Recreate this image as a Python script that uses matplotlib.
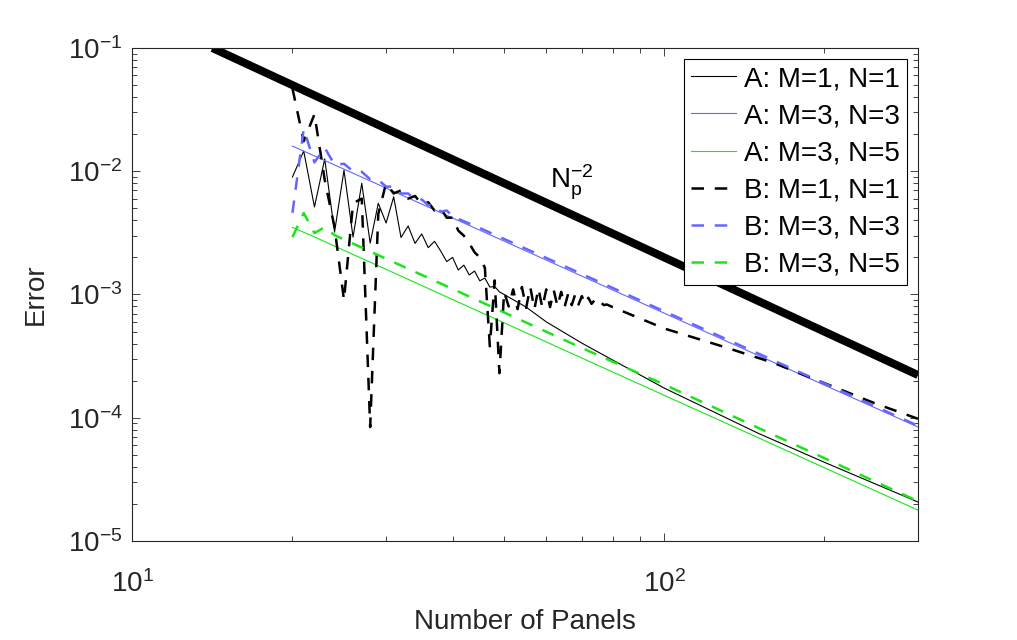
import numpy as np
import matplotlib
matplotlib.use('Agg')
import matplotlib.pyplot as plt

plt.rcParams['font.family'] = ['Liberation Sans', 'DejaVu Sans']
plt.rcParams['mathtext.fontset'] = 'custom'
plt.rcParams['mathtext.rm'] = 'Liberation Sans'
plt.rcParams['mathtext.it'] = 'Liberation Sans'
plt.rcParams['mathtext.default'] = 'regular'
plt.rcParams['axes.unicode_minus'] = False

###############################################
# Data

# reference slope line N_p^-2
n_ref = [14.14, 300]
e_ref = [0.1, 2.22e-4]

# A: M=1, N=1
n_a11 = list(range(20, 51)) + [55, 60, 70, 80, 100, 150, 200, 300]
e_a11 = [8.97e-3, 1.46e-2, 5.13e-3, 1.26e-2, 3.21e-3, 1.02e-2, 2.92e-3, 8.0e-3,
         2.61e-3, 5.5e-3, 3.8e-3, 6.2e-3, 2.9e-3, 3.6e-3, 2.6e-3, 3.1e-3,
         2.4e-3, 2.7e-3, 2.25e-3, 1.85e-3, 2.0e-3, 1.58e-3, 1.73e-3, 1.44e-3,
         1.55e-3, 1.29e-3, 1.36e-3, 1.15e-3, 1.16e-3, 1.05e-3, 1.0e-3,
         7.9e-4, 6.0e-4, 4.03e-4, 2.94e-4, 1.74e-4, 7.5e-5, 4.35e-5, 2.07e-5]

# A: M=3, N=3
n_a33 = [20, 25, 30, 40, 50, 70, 100, 150, 200, 300]
e_a33 = [0.016, 0.0104, 7.3e-3, 4.18e-3, 2.71e-3, 1.41e-3, 7.05e-4, 3.21e-4, 1.84e-4, 8.4e-5]

# A: M=3, N=5
n_a35 = [20, 22, 25, 30, 40, 50, 70, 100, 150, 200, 300]
e_a35 = [3.5e-3, 2.93e-3, 2.28e-3, 1.6e-3, 9.1e-4, 5.89e-4, 3.05e-4, 1.52e-4, 6.9e-5, 3.93e-5, 1.78e-5]

# B: M=1, N=1
n_b11 = list(range(20, 79)) + [80, 90, 100, 130, 160, 200, 250, 300]
e_b11 = [0.047, 0.0175, 0.029, 8.5e-3, 3.5e-3, 9.0e-4, 5.5e-3, 6.0e-3,
         8.4e-5, 4.5e-3, 8.0e-3, 6.6e-3, 7.0e-3, 6.0e-3, 6.3e-3, 5.4e-3,
         5.6e-3, 4.8e-3, 5.0e-3, 4.2e-3, 4.2e-3, 3.3e-3, 3.0e-3, 2.6e-3,
         2.2e-3, 2.0e-3, 1.65e-3, 3.8e-4, 1.3e-3, 2.3e-4, 1.05e-3,
         8.0e-4, 1.1e-3, 7.6e-4, 1.15e-3, 7.8e-4, 1.15e-3, 7.6e-4, 1.12e-3,
         7.8e-4, 1.1e-3, 7.9e-4, 1.08e-3, 8.0e-4, 1.05e-3, 8.0e-4, 1.02e-3,
         8.2e-4, 1.0e-3, 8.3e-4, 9.7e-4, 8.4e-4, 9.4e-4, 8.4e-4, 9.0e-4,
         8.3e-4, 8.6e-4, 8.2e-4, 8.3e-4,
         7.9e-4, 6.4e-4, 5.3e-4, 3.74e-4, 2.8e-4, 1.91e-4, 1.3e-4, 9.8e-5]

# B: M=3, N=3
n_b33 = list(range(20, 41)) + [45, 50, 60, 80, 100, 150, 200, 300]
e_b33 = [4.6e-3, 0.022, 0.0118, 0.0155, 0.0113, 0.0115, 0.0100, 0.0099,
         0.0086, 0.0085, 0.0075, 0.0075, 0.0066, 0.0066, 0.0059, 0.0059,
         0.0053, 0.0053, 0.0047, 0.0048, 0.0043,
         3.46e-3, 2.82e-3, 1.98e-3, 1.13e-3, 7.3e-4, 3.33e-4, 1.9e-4, 8.6e-5]

# B: M=3, N=5
n_b35 = [20, 21, 22, 23, 24, 30, 40, 50, 70, 100, 150, 200, 300]
e_b35 = [2.92e-3, 4.58e-3, 3.15e-3, 3.52e-3, 3.03e-3, 1.95e-3, 1.11e-3, 7.15e-4,
         3.68e-4, 1.86e-4, 8.3e-5, 4.7e-5, 2.1e-5]

###############################################
# Plot

blue = (0.4, 0.4, 1.0)
green = (0.1, 0.9, 0.1)
dash = (0, (5, 4.3))

fig = plt.figure(figsize=(10.17, 6.4), dpi=100)
ax = fig.add_axes([0.1301, 0.1547, 0.7726, 0.7703])

ax.loglog(n_ref, e_ref, color='k', lw=5.8, solid_capstyle='butt')
ax.loglog(n_a11, e_a11, color='k', lw=0.8, label='A: M=1, N=1')
ax.loglog(n_a33, e_a33, color=blue, lw=0.8, label='A: M=3, N=3')
ax.loglog(n_a35, e_a35, color=green, lw=0.8, label='A: M=3, N=5')
ax.loglog(n_b11, e_b11, color='k', lw=1.8, ls=dash, label='B: M=1, N=1')
ax.loglog(n_b33, e_b33, color=blue, lw=1.8, ls=dash, label='B: M=3, N=3')
ax.loglog(n_b35, e_b35, color=green, lw=1.8, ls=dash, label='B: M=3, N=5')

ax.text(61, 7.3e-3, r'$N_p^{-2}$', fontsize=20, ha='left', va='baseline')

ax.set_xlim(10, 300)
ax.set_ylim(1e-5, 1e-1)
ax.set_xlabel('Number of Panels', fontsize=20, color='#262626', labelpad=8)
ax.set_ylabel('Error', fontsize=20, color='#262626', labelpad=14)

ax.tick_params(which='both', direction='in', top=True, right=True,
               colors='#262626', labelsize=20)
ax.tick_params(which='major', length=5.8, width=0.6)
ax.tick_params(which='minor', length=3.4, width=0.6)
ax.tick_params(axis='x', which='major', pad=21)
ax.tick_params(axis='y', which='major', pad=7)
for s in ax.spines.values():
    s.set_color('#262626')
    s.set_linewidth(0.8)

leg = ax.legend(loc='upper right', fontsize=20, frameon=True, fancybox=False,
                edgecolor='k', framealpha=1, handlelength=1.6,
                handletextpad=0.3, labelspacing=0.4, borderpad=0.25,
                borderaxespad=0.4)
leg.get_frame().set_linewidth(0.8)

fig.savefig('out.png', dpi=100)
